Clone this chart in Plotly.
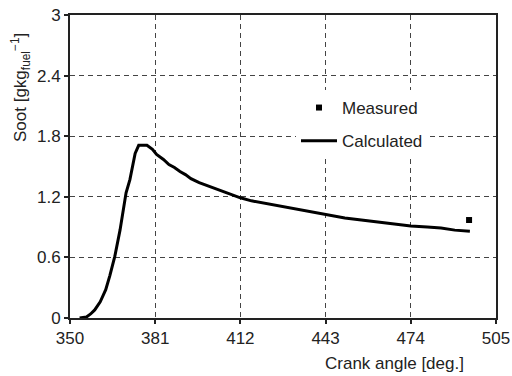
import plotly.graph_objects as go

# Calculated soot curve
calc_angle = [353.5, 356, 357.5, 359, 361, 363, 364.5, 366.3, 368.2, 369.4, 370.4,
              371.8, 373.7, 375, 378, 380, 381.5, 384, 386, 388, 390, 392, 394, 397,
              400, 404, 408, 412, 416, 420, 424, 430, 436, 443, 450, 456, 462, 468,
              474, 480, 485, 490, 495.5]
calc_soot = [0.0, 0.01, 0.04, 0.08, 0.16, 0.28, 0.42, 0.61, 0.87, 1.07, 1.24,
             1.37, 1.63, 1.71, 1.71, 1.67, 1.62, 1.57, 1.52, 1.49, 1.45, 1.42, 1.38, 1.34,
             1.31, 1.27, 1.23, 1.19, 1.16, 1.14, 1.12, 1.09, 1.06, 1.03, 0.99, 0.97, 0.95,
             0.93, 0.91, 0.90, 0.89, 0.87, 0.86]

# Measured point
meas_angle = [495.2]
meas_soot = [0.97]

x_ticks = [350, 381, 412, 443, 474, 505]
y_ticks = [0, 0.6, 1.2, 1.8, 2.4, 3]
y_ticktext = ["0", "0.6", "1.2", "1.8", "2.4", "3"]

FONT = "Liberation Sans, Arial, sans-serif"
TXT = "#222222"

fig = go.Figure()
fig.add_trace(go.Scatter(x=meas_angle, y=meas_soot, mode="markers", name="Measured",
                         marker=dict(symbol="square", size=6, color="black"),
                         legendgroup="a"))
fig.add_trace(go.Scatter(x=calc_angle, y=calc_soot, mode="lines", name="Calculated",
                         line=dict(color="black", width=3), legendgroup="b"))

axis_common = dict(showline=True, linecolor="#222", linewidth=2, mirror=True,
                   ticks="outside", ticklen=4, tickcolor="#222", tickwidth=1.5,
                   showgrid=True, gridcolor="#444", gridwidth=1.3, griddash="5px,4px",
                   zeroline=False, automargin=False,
                   tickfont=dict(family=FONT, size=17, color=TXT))

fig.update_xaxes(range=[350, 505], tickvals=x_ticks, **axis_common)
fig.update_yaxes(range=[0, 3], tickvals=y_ticks, ticktext=y_ticktext, **axis_common)

fig.update_layout(
    width=512, height=376,
    margin=dict(l=70, r=16, t=15, b=58),
    paper_bgcolor="white", plot_bgcolor="white",
    font=dict(family=FONT, size=17, color=TXT),
    showlegend=True,
    legend=dict(x=(296 - 70) / 426, y=(318 - 90) / 303, xanchor="left", yanchor="top",
                bgcolor="white", borderwidth=0, tracegroupgap=8, itemwidth=36,
                font=dict(family=FONT, size=17, color=TXT)),
    annotations=[
        dict(text="Soot [gkg<sub>fuel</sub><sup>−1</sup>]", xref="paper", yref="paper",
             x=(20 - 70) / 426, y=(318 - 88) / 303, xanchor="center", yanchor="middle",
             textangle=-90, showarrow=False, font=dict(family=FONT, size=17, color=TXT)),
        dict(text="Crank angle [deg.]", xref="paper", yref="paper",
             x=(394 - 70) / 426, y=(318 - 363) / 303, xanchor="center", yanchor="middle",
             showarrow=False, font=dict(family=FONT, size=17, color=TXT)),
    ],
)

fig.write_html("out.html")
